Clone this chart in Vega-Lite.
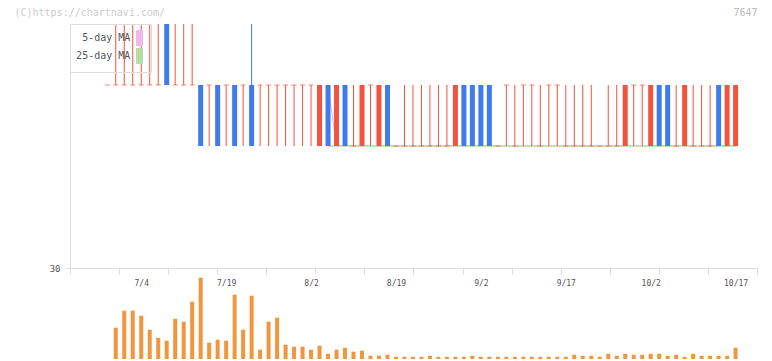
{
  "$schema": "https://vega.github.io/schema/vega-lite/v6.json",
  "width": 687,
  "height": 244,
  "autosize": {"type": "none"},
  "padding": {"left": 70, "top": 24, "right": 15, "bottom": 93},
  "background": "white",
  "config": {
    "view": {"stroke": null},
    "axis": {"grid": false, "domainColor": "#dddddd", "tickColor": "#dddddd", "labelFont": "DejaVu Sans Mono", "labelColor": "#555555", "titleFont": "DejaVu Sans Mono", "titleFontWeight": "normal"},
    "axisX": {"labelOverlap": false, "labelFlush": false, "labelBound": false}
  },
  "data": {"values": [
    {"i": -1, "d": "6/28", "o": 33, "h": 33, "l": 33, "c": 33, "v": null, "ma5": null, "ma25": null},
    {"i": 0, "d": "7/1", "o": 33, "h": 34, "l": 33, "c": 33, "v": 3130, "ma5": null, "ma25": null},
    {"i": 1, "d": "7/2", "o": 33, "h": 34, "l": 33, "c": 33, "v": 4830, "ma5": null, "ma25": null},
    {"i": 2, "d": "7/3", "o": 33, "h": 34, "l": 33, "c": 33, "v": 4830, "ma5": null, "ma25": null},
    {"i": 3, "d": "7/4", "o": 33, "h": 34, "l": 33, "c": 33, "v": 4330, "ma5": null, "ma25": null},
    {"i": 4, "d": "7/5", "o": 33, "h": 34, "l": 33, "c": 33, "v": 2930, "ma5": null, "ma25": null},
    {"i": 5, "d": "7/8", "o": 33, "h": 34, "l": 33, "c": 33, "v": 2130, "ma5": null, "ma25": null},
    {"i": 6, "d": "7/9", "o": 34, "h": 34, "l": 33, "c": 33, "v": 1830, "ma5": null, "ma25": null},
    {"i": 7, "d": "7/10", "o": 33, "h": 34, "l": 33, "c": 33, "v": 4030, "ma5": null, "ma25": null},
    {"i": 8, "d": "7/11", "o": 33, "h": 34, "l": 33, "c": 33, "v": 3730, "ma5": null, "ma25": null},
    {"i": 9, "d": "7/12", "o": 33, "h": 34, "l": 33, "c": 33, "v": 5730, "ma5": null, "ma25": null},
    {"i": 10, "d": "7/16", "o": 33, "h": 33, "l": 32, "c": 32, "v": 8130, "ma5": null, "ma25": null},
    {"i": 11, "d": "7/17", "o": 33, "h": 33, "l": 32, "c": 33, "v": 1630, "ma5": null, "ma25": null},
    {"i": 12, "d": "7/18", "o": 33, "h": 33, "l": 32, "c": 32, "v": 1930, "ma5": null, "ma25": null},
    {"i": 13, "d": "7/19", "o": 33, "h": 33, "l": 32, "c": 33, "v": 1830, "ma5": null, "ma25": null},
    {"i": 14, "d": "7/22", "o": 33, "h": 33, "l": 32, "c": 32, "v": 6430, "ma5": null, "ma25": null},
    {"i": 15, "d": "7/23", "o": 33, "h": 33, "l": 32, "c": 33, "v": 2930, "ma5": null, "ma25": null},
    {"i": 16, "d": "7/24", "o": 33, "h": 34, "l": 32, "c": 32, "v": 6330, "ma5": null, "ma25": null},
    {"i": 17, "d": "7/25", "o": 33, "h": 33, "l": 32, "c": 33, "v": 930, "ma5": null, "ma25": null},
    {"i": 18, "d": "7/26", "o": 33, "h": 33, "l": 32, "c": 33, "v": 3730, "ma5": null, "ma25": null},
    {"i": 19, "d": "7/29", "o": 33, "h": 33, "l": 32, "c": 33, "v": 4130, "ma5": null, "ma25": null},
    {"i": 20, "d": "7/30", "o": 33, "h": 33, "l": 32, "c": 33, "v": 1430, "ma5": null, "ma25": null},
    {"i": 21, "d": "7/31", "o": 33, "h": 33, "l": 32, "c": 33, "v": 1230, "ma5": null, "ma25": null},
    {"i": 22, "d": "8/1", "o": 33, "h": 33, "l": 32, "c": 33, "v": 1230, "ma5": null, "ma25": null},
    {"i": 23, "d": "8/2", "o": 33, "h": 33, "l": 32, "c": 33, "v": 930, "ma5": null, "ma25": null},
    {"i": 24, "d": "8/5", "o": 32, "h": 33, "l": 32, "c": 33, "v": 1330, "ma5": null, "ma25": null},
    {"i": 25, "d": "8/6", "o": 33, "h": 33, "l": 32, "c": 32, "v": 530, "ma5": 33, "ma25": 32},
    {"i": 26, "d": "8/7", "o": 32, "h": 33, "l": 32, "c": 33, "v": 930, "ma5": 32, "ma25": 32},
    {"i": 27, "d": "8/8", "o": 33, "h": 33, "l": 32, "c": 32, "v": 1130, "ma5": 32, "ma25": 32},
    {"i": 28, "d": "8/9", "o": 32, "h": 33, "l": 32, "c": 32, "v": 730, "ma5": 32, "ma25": 32},
    {"i": 29, "d": "8/13", "o": 32, "h": 33, "l": 32, "c": 33, "v": 830, "ma5": 32, "ma25": 32},
    {"i": 30, "d": "8/14", "o": 33, "h": 33, "l": 32, "c": 33, "v": 330, "ma5": 32, "ma25": 32},
    {"i": 31, "d": "8/15", "o": 32, "h": 33, "l": 32, "c": 33, "v": 330, "ma5": 32, "ma25": 32},
    {"i": 32, "d": "8/16", "o": 33, "h": 33, "l": 32, "c": 32, "v": 430, "ma5": 32, "ma25": 32},
    {"i": 33, "d": "8/19", "o": 32, "h": 32, "l": 32, "c": 32, "v": 220, "ma5": 32, "ma25": 32},
    {"i": 34, "d": "8/20", "o": 32, "h": 33, "l": 32, "c": 32, "v": 220, "ma5": 32, "ma25": 32},
    {"i": 35, "d": "8/21", "o": 32, "h": 33, "l": 32, "c": 32, "v": 220, "ma5": 32, "ma25": 32},
    {"i": 36, "d": "8/22", "o": 32, "h": 33, "l": 32, "c": 32, "v": 220, "ma5": 32, "ma25": 32},
    {"i": 37, "d": "8/23", "o": 32, "h": 33, "l": 32, "c": 32, "v": 320, "ma5": 32, "ma25": 32},
    {"i": 38, "d": "8/26", "o": 32, "h": 33, "l": 32, "c": 32, "v": 220, "ma5": 32, "ma25": 32},
    {"i": 39, "d": "8/27", "o": 32, "h": 33, "l": 32, "c": 32, "v": 220, "ma5": 32, "ma25": 32},
    {"i": 40, "d": "8/28", "o": 32, "h": 33, "l": 32, "c": 33, "v": 220, "ma5": 32, "ma25": 32},
    {"i": 41, "d": "8/29", "o": 33, "h": 33, "l": 32, "c": 32, "v": 220, "ma5": 32, "ma25": 32},
    {"i": 42, "d": "8/30", "o": 33, "h": 33, "l": 32, "c": 32, "v": 320, "ma5": 32, "ma25": 32},
    {"i": 43, "d": "9/2", "o": 33, "h": 33, "l": 32, "c": 32, "v": 220, "ma5": 32, "ma25": 32},
    {"i": 44, "d": "9/3", "o": 33, "h": 33, "l": 32, "c": 32, "v": 220, "ma5": 32, "ma25": 32},
    {"i": 45, "d": "9/4", "o": 32, "h": 32, "l": 32, "c": 32, "v": 220, "ma5": 32, "ma25": 32},
    {"i": 46, "d": "9/5", "o": 33, "h": 33, "l": 32, "c": 33, "v": 220, "ma5": 32, "ma25": 32},
    {"i": 47, "d": "9/6", "o": 32, "h": 33, "l": 32, "c": 32, "v": 220, "ma5": 32, "ma25": 32},
    {"i": 48, "d": "9/9", "o": 33, "h": 33, "l": 32, "c": 33, "v": 220, "ma5": 32, "ma25": 32},
    {"i": 49, "d": "9/10", "o": 33, "h": 33, "l": 32, "c": 33, "v": 220, "ma5": 32, "ma25": 32},
    {"i": 50, "d": "9/11", "o": 32, "h": 33, "l": 32, "c": 32, "v": 220, "ma5": 32, "ma25": 32},
    {"i": 51, "d": "9/12", "o": 33, "h": 33, "l": 32, "c": 33, "v": 220, "ma5": 32, "ma25": 32},
    {"i": 52, "d": "9/13", "o": 33, "h": 33, "l": 32, "c": 33, "v": 220, "ma5": 32, "ma25": 32},
    {"i": 53, "d": "9/17", "o": 32, "h": 33, "l": 32, "c": 32, "v": 220, "ma5": 32, "ma25": 32},
    {"i": 54, "d": "9/18", "o": 32, "h": 33, "l": 32, "c": 32, "v": 420, "ma5": 32, "ma25": 32},
    {"i": 55, "d": "9/19", "o": 32, "h": 33, "l": 32, "c": 32, "v": 320, "ma5": 32, "ma25": 32},
    {"i": 56, "d": "9/20", "o": 32, "h": 33, "l": 32, "c": 32, "v": 320, "ma5": 32, "ma25": 32},
    {"i": 57, "d": "9/24", "o": 32, "h": 32, "l": 32, "c": 32, "v": 220, "ma5": 32, "ma25": 32},
    {"i": 58, "d": "9/25", "o": 32, "h": 33, "l": 32, "c": 32, "v": 520, "ma5": 32, "ma25": 32},
    {"i": 59, "d": "9/26", "o": 32, "h": 33, "l": 32, "c": 32, "v": 320, "ma5": 32, "ma25": 32},
    {"i": 60, "d": "9/27", "o": 32, "h": 33, "l": 32, "c": 33, "v": 520, "ma5": 32, "ma25": 32},
    {"i": 61, "d": "9/30", "o": 33, "h": 33, "l": 32, "c": 33, "v": 420, "ma5": 32, "ma25": 32},
    {"i": 62, "d": "10/1", "o": 33, "h": 33, "l": 32, "c": 33, "v": 420, "ma5": 32, "ma25": 32},
    {"i": 63, "d": "10/2", "o": 32, "h": 33, "l": 32, "c": 33, "v": 520, "ma5": 32, "ma25": 32},
    {"i": 64, "d": "10/3", "o": 33, "h": 33, "l": 32, "c": 32, "v": 520, "ma5": 32, "ma25": 32},
    {"i": 65, "d": "10/4", "o": 33, "h": 33, "l": 32, "c": 32, "v": 320, "ma5": 32, "ma25": 32},
    {"i": 66, "d": "10/7", "o": 32, "h": 33, "l": 32, "c": 32, "v": 420, "ma5": 32, "ma25": 32},
    {"i": 67, "d": "10/8", "o": 32, "h": 33, "l": 32, "c": 33, "v": 220, "ma5": 32, "ma25": 32},
    {"i": 68, "d": "10/9", "o": 32, "h": 33, "l": 32, "c": 32, "v": 520, "ma5": 32, "ma25": 32},
    {"i": 69, "d": "10/10", "o": 32, "h": 33, "l": 32, "c": 32, "v": 320, "ma5": 32, "ma25": 32},
    {"i": 70, "d": "10/11", "o": 32, "h": 33, "l": 32, "c": 32, "v": 320, "ma5": 32, "ma25": 32},
    {"i": 71, "d": "10/15", "o": 33, "h": 33, "l": 32, "c": 32, "v": 320, "ma5": 32, "ma25": 32},
    {"i": 72, "d": "10/16", "o": 32, "h": 33, "l": 32, "c": 33, "v": 320, "ma5": 32, "ma25": 32},
    {"i": 73, "d": "10/17", "o": 32, "h": 33, "l": 32, "c": 33, "v": 1130, "ma5": 32, "ma25": 32}
  ]},
  "resolve": {"scale": {"y": "independent"}, "axis": {"y": "independent", "x": "independent"}},
  "layer": [
    {
      "layer": [
        {
          "mark": {"type": "line", "strokeWidth": 1.2},
          "encoding": {
            "x": {"field": "i", "type": "quantitative",
              "scale": {"domain": [-5.39, 75.52], "nice": false, "zero": false, "padding": 0},
              "axis": {
                "orient": "bottom",
                "title": null,
                "values": [-5.39, 0.389, 6.168, 11.947, 17.726, 23.505, 29.284, 35.063, 40.842, 46.621, 52.4, 58.179, 63.958, 69.737, 75.52],
                "tickSize": 6,
                "labels": false
              }},
            "y": {"field": "ma5", "type": "quantitative",
              "scale": {"domain": [30, 34], "nice": false, "zero": false},
              "axis": {
                "values": [30], "format": "d", "tickSize": 4, "labelPadding": 6, "labelFontSize": 9,
                "title": "(C)https://chartnavi.com/", "titleAngle": 0, "titleAlign": "left", "titleBaseline": "middle",
                "titleX": -56, "titleY": -12, "titleColor": "#cccccc", "titleFontSize": 10
              }},
            "color": {"datum": "5-day MA", "type": "nominal",
              "scale": {"domain": ["5-day MA", "25-day MA"], "range": ["#f2b8ee", "#b8dca8"]},
              "legend": {
                "orient": "top-left", "offset": 0, "zindex": 0, "title": null,
                "padding": 6, "strokeColor": "#dddddd", "cornerRadius": 0,
                "symbolType": "M0.2,-1H1V1H0.2Z", "symbolSize": 225,
                "symbolStrokeColor": "#666666", "symbolStrokeWidth": 1,
                "symbolOffset": 51, "labelAlign": "right", "labelOffset": -12.7,
                "labelFont": "DejaVu Sans Mono", "labelFontSize": 10, "labelColor": "#555555",
                "rowPadding": -4,
                "encode": {"symbols": {"update": {
                  "fill": {"scale": "color", "field": "value"},
                  "stroke": {"value": "#666666"},
                  "strokeWidth": {"value": 1},
                  "opacity": {"value": 1}
                }}}
              }}
          }
        },
        {
          "mark": {"type": "line", "strokeWidth": 1.5},
          "encoding": {
            "x": {"field": "i", "type": "quantitative"},
            "y": {"field": "ma25", "type": "quantitative"},
            "color": {"datum": "25-day MA", "type": "nominal"}
          }
        },
        {
          "mark": {"type": "rule", "strokeWidth": 1},
          "encoding": {
            "x": {"field": "i", "type": "quantitative"},
            "y": {"field": "l", "type": "quantitative"},
            "y2": {"field": "h"},
            "color": {"condition": {"test": "datum.c < datum.o", "value": "#3f7bed"}, "value": "#f2523e"}
          }
        },
        {
          "transform": [{"filter": "datum.o != datum.c"}],
          "mark": {"type": "bar", "width": 5},
          "encoding": {
            "x": {"field": "i", "type": "quantitative"},
            "y": {"field": "o", "type": "quantitative"},
            "y2": {"field": "c"},
            "color": {"condition": {"test": "datum.c < datum.o", "value": "#3f7bed"}, "value": "#f2523e"}
          }
        },
        {
          "transform": [{"filter": "datum.o == datum.c"}],
          "mark": {"type": "tick", "orient": "horizontal", "size": 5, "thickness": 1},
          "encoding": {
            "x": {"field": "i", "type": "quantitative"},
            "y": {"field": "c", "type": "quantitative"},
            "color": {"value": "#f2523e"}
          }
        }
      ]
    },
    {
      "mark": {"type": "bar", "width": 4, "color": "#f2953f"},
      "encoding": {
        "x": {"field": "i", "type": "quantitative",
          "scale": {"domain": [-5.39, 75.52], "nice": false, "zero": false, "padding": 0},
          "axis": {
            "orient": "bottom",
            "title": null,
            "values": [3, 13, 23, 33, 43, 53, 63, 73],
            "ticks": false,
            "domain": false,
            "labelExpr": "datum.value==3?'7/4':datum.value==13?'7/19':datum.value==23?'8/2':datum.value==33?'8/19':datum.value==43?'9/2':datum.value==53?'9/17':datum.value==63?'10/2':datum.value==73?'10/17':''",
            "labelFontSize": 8,
            "labelPadding": 11,
            "labelFlush": false,
            "labelOverlap": false,
            "labelBound": false
          }},
        "y": {"field": "v", "type": "quantitative",
          "scale": {"domain": [0, 10000], "range": [335, 235], "nice": false},
          "axis": {"orient": "right", "domain": false, "ticks": false, "labels": false,
            "title": "7647", "titleAngle": 0, "titleAlign": "right", "titleBaseline": "middle",
            "titleX": 0, "titleY": -12, "titleColor": "#bbbbbb", "titleFontSize": 10}}
      }
    }
  ]
}
